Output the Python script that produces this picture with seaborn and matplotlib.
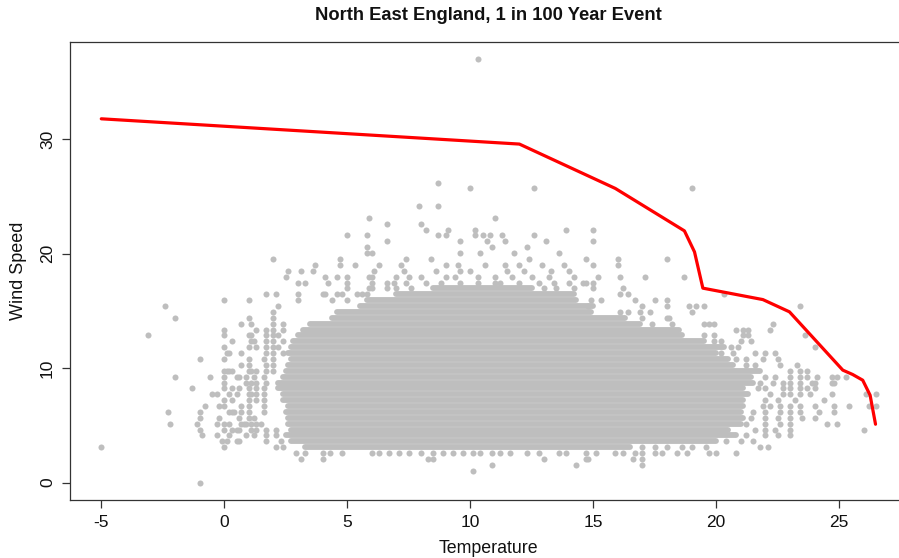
import numpy as np
import pandas as pd
import matplotlib
matplotlib.use("Agg")
import matplotlib.pyplot as plt
import seaborn as sns

# ---------------- data ----------------
KNOT_TO_MS = 0.5144  # wind recorded in whole knots, plotted in m/s

# dense core of the cloud: one row per knot level, temperature extent of the filled band
core_knots = [6, 7, 8, 9, 10, 11, 12, 13, 14, 15, 16, 17, 18, 19, 20,
              21, 22, 23, 24, 25, 26, 27, 28, 29, 30, 31, 32, 33]
core_lo = [3.3, 2.7, 2.5, 2.7, 2.6, 2.6, 2.5, 2.6, 2.4, 2.4, 2.2, 2.2, 2.4, 2.5, 2.6,
           2.7, 2.6, 2.7, 2.8, 3.0, 3.2, 3.5, 4.4, 4.6, 5.5, 5.8, 7.0, 8.5]
core_hi = [16.5, 20.0, 20.8, 20.5, 21.0, 21.1, 21.0, 21.1, 21.1, 21.3, 21.1, 21.5, 21.4, 21.8, 20.7,
           20.5, 20.0, 20.3, 19.5, 18.6, 18.5, 16.9, 16.3, 14.9, 15.0, 14.3, 14.2, 12.5]

# scattered observations (temperature, wind in knots)
far_left_pts = [(-5.0, 6), (-3.1, 25), (-2.4, 30), (-2.0, 28), (-2.0, 18), (-2.3, 12), (-2.2, 10),
                (-1.3, 16), (-1.0, 21), (-1.0, 12), (-1.0, 11), (-1.1, 10), (-1.0, 9), (-0.9, 8),
                (-0.8, 13), (-0.6, 18), (-0.5, 15), (-0.3, 10), (-0.3, 8), (-0.2, 11), (-0.2, 13),
                (-1.0, 0)]
left_pts = [(0.0, 31), (1.0, 31), (1.7, 32), (2.1, 32), (2.2, 30), (2.0, 29), (1.0, 28), (2.0, 28),
            (0.7, 27), (1.1, 27), (2.0, 27), (2.4, 27), (0.0, 26), (1.3, 26), (1.7, 26), (2.0, 26), (2.4, 26),
            (0.0, 25), (1.0, 25), (1.1, 25), (1.7, 25), (2.0, 25), (2.2, 25),
            (0.3, 24), (1.1, 24), (1.2, 24), (1.7, 24), (2.0, 24), (2.4, 24),
            (0.0, 23), (1.0, 23), (1.3, 23), (1.7, 23), (2.0, 23), (2.2, 23),
            (0.1, 22), (0.2, 22), (0.7, 22), (1.7, 22), (2.0, 22), (2.4, 22),
            (0.0, 21), (1.0, 21), (1.6, 21), (2.0, 21), (0.7, 20), (1.0, 20), (1.7, 20), (2.0, 20),
            (0.0, 19), (0.1, 19), (0.2, 19), (0.3, 19), (1.0, 19), (1.1, 19), (1.3, 19), (1.7, 19), (2.0, 19),
            (0.0, 18), (0.5, 18), (0.6, 18), (0.9, 18), (1.2, 18), (1.6, 18),
            (0.0, 17), (0.9, 17), (1.1, 17), (1.3, 17), (1.7, 17),
            (0.0, 16), (0.3, 16), (0.6, 16), (1.0, 16), (1.3, 16), (1.6, 16),
            (-0.3, 15), (0.2, 15), (0.5, 15), (1.0, 15), (1.1, 15), (1.3, 15), (1.6, 15),
            (0.0, 14), (0.3, 14), (1.0, 14), (1.3, 14), (1.6, 14),
            (0.0, 13), (0.7, 13), (1.0, 13), (1.6, 13),
            (0.2, 12), (0.3, 12), (0.4, 12), (0.7, 12), (1.0, 12), (1.6, 12),
            (0.6, 11), (1.0, 11), (1.2, 11),
            (0.0, 10), (0.2, 10), (0.7, 10), (0.8, 10), (0.9, 10), (1.1, 10), (1.3, 10), (1.5, 10),
            (0.0, 9), (0.3, 9), (0.5, 9), (0.6, 9), (1.1, 9), (1.3, 9), (1.7, 9), (2.1, 9),
            (0.2, 8), (0.9, 8), (1.2, 8), (1.7, 8), (2.1, 8),
            (-0.1, 7), (0.1, 7), (0.5, 7), (0.6, 7), (1.7, 7), (2.3, 7),
            (0.0, 6), (2.1, 6), (2.4, 6)]
upper_pts = [(5.9, 45), (5.0, 42), (5.8, 42), (5.8, 40), (5.8, 39), (6.0, 39), (2.0, 38), (4.7, 38),
             (4.7, 37), (5.3, 37), (6.3, 37), (3.7, 37), (2.6, 36), (3.1, 36), (3.6, 36), (2.5, 35),
             (4.1, 35), (4.6, 35), (5.0, 35), (5.9, 35), (6.0, 35), (3.0, 34), (3.3, 34), (4.2, 34),
             (5.0, 34), (6.0, 34), (5.0, 33), (5.9, 33), (6.0, 33), (3.0, 32), (3.0, 31), (4.0, 32),
             (4.1, 32), (4.6, 32), (4.8, 32), (4.4, 31), (5.0, 31), (5.4, 32), (5.6, 32), (5.8, 32),
             (8.7, 51), (10.0, 50), (12.6, 50), (7.9, 47), (8.7, 47), (6.6, 44), (8.0, 44), (11.0, 45),
             (6.6, 41), (8.2, 43), (9.1, 43), (8.7, 42), (9.0, 42), (10.2, 43), (10.2, 42), (10.5, 42),
             (10.8, 42), (11.3, 42), (12.6, 42), (13.9, 43), (9.6, 41), (10.7, 41), (11.4, 41), (13.1, 41),
             (10.9, 40), (12.3, 40), (13.6, 39), (9.6, 39), (10.4, 39), (11.8, 39), (7.4, 38), (8.4, 38),
             (12.4, 38), (7.2, 37), (9.0, 37), (9.5, 37), (10.6, 37), (11.4, 37), (12.0, 37), (12.9, 37),
             (13.8, 37), (6.1, 36), (7.3, 36), (8.6, 36), (9.6, 36), (10.0, 36), (11.5, 36), (12.2, 36),
             (13.3, 36), (14.0, 36),
             (7.0, 35), (7.5, 35), (8.0, 35), (9.0, 35), (9.4, 35), (10.3, 35), (11.0, 35), (11.7, 35),
             (12.5, 35), (13.2, 35), (14.2, 35),
             (6.6, 34), (6.9, 34), (7.4, 34), (8.2, 34), (8.8, 34), (9.6, 34), (10.3, 34), (11.0, 34),
             (11.2, 34), (12.0, 34), (12.8, 34), (13.4, 34), (14.0, 34),
             (6.6, 33), (7.0, 33), (7.6, 33), (13.0, 33), (13.5, 33), (14.2, 33)]
upper_right_pts = [(19.0, 50), (15.0, 43), (15.0, 41), (14.7, 38), (16.0, 38), (16.0, 37), (18.0, 38),
                   (15.0, 37), (15.2, 35), (16.1, 35), (17.1, 35), (18.7, 35), (16.2, 33), (16.4, 32),
                   (18.0, 31), (14.6, 34), (14.7, 34), (15.0, 34), (15.0, 33), (16.1, 32), (16.7, 31),
                   (17.5, 31), (14.9, 31), (15.3, 31), (17.0, 30), (18.0, 30), (18.9, 30), (19.2, 30),
                   (19.5, 30), (19.0, 29), (14.8, 30), (16.9, 29), (17.3, 29), (16.1, 29), (16.4, 29),
                   (18.0, 28), (18.1, 28), (19.7, 27), (19.5, 27), (17.4, 27), (18.2, 27), (17.0, 28)]
right_pts = [(20.3, 32), (23.4, 30), (19.9, 27), (22.3, 27), (20.8, 26), (21.1, 26), (21.3, 26),
             (22.2, 26), (19.5, 25), (19.9, 25), (21.1, 25), (21.3, 25), (23.6, 25), (19.9, 24),
             (20.2, 24), (21.0, 24), (21.4, 24), (20.6, 23), (20.9, 23), (24.0, 23), (20.2, 22),
             (20.7, 22), (21.6, 22), (22.0, 22), (22.4, 22), (20.8, 21), (21.2, 21), (21.9, 21),
             (22.5, 21), (21.2, 20), (21.6, 20), (22.6, 20), (23.3, 20), (23.0, 19), (23.4, 19),
             (23.7, 19), (22.0, 18), (22.4, 18), (23.0, 18), (23.4, 18), (23.7, 18), (24.1, 18),
             (24.7, 18), (24.9, 18), (25.3, 18), (21.8, 17), (22.3, 17), (22.7, 17), (23.0, 17),
             (23.4, 17), (23.9, 17), (24.0, 17), (24.7, 17), (24.8, 17), (21.7, 16), (22.0, 16),
             (22.7, 16), (23.0, 16), (23.4, 16), (23.7, 16), (24.0, 16), (22.2, 15), (22.7, 15),
             (23.0, 15), (23.4, 15), (23.8, 15), (24.7, 15), (26.1, 15), (26.5, 15), (24.4, 14),
             (22.0, 14), (22.5, 14), (23.2, 14), (21.9, 13), (22.2, 13), (22.6, 13), (23.0, 13),
             (23.4, 13), (24.0, 13), (24.8, 13), (25.4, 13), (26.2, 13), (26.5, 13), (21.5, 12),
             (22.0, 12), (22.6, 12), (23.0, 12), (23.4, 12), (24.2, 12), (24.8, 12), (21.4, 11),
             (22.0, 11), (22.5, 11), (23.0, 11), (23.5, 11), (24.0, 11), (24.5, 10), (24.9, 10),
             (21.2, 10), (22.0, 10), (22.6, 10), (23.0, 10), (26.0, 9), (21.6, 9), (22.0, 9),
             (22.4, 9), (23.0, 9), (22.0, 8), (22.5, 8), (23.0, 8), (21.8, 6), (22.1, 6),
             (20.8, 5), (20.0, 5), (19.7, 5), (20.4, 7), (21.0, 7), (21.5, 7), (21.2, 8),
             (17.0, 6), (17.5, 6), (18.0, 6), (18.6, 6), (19.0, 6), (19.6, 6)]
bottom_pts = [(2.9, 5), (3.3, 5), (4.0, 5), (4.3, 5), (4.8, 5), (6.0, 5), (6.3, 5), (6.7, 5), (7.1, 5),
              (7.5, 5), (8.0, 5), (8.5, 5), (8.9, 5), (9.3, 5), (9.7, 5), (10.1, 5), (10.4, 5),
              (10.9, 5), (11.2, 5), (11.6, 5), (12.3, 5), (12.8, 5), (13.6, 5), (13.9, 5), (14.7, 5),
              (15.1, 5), (15.9, 5), (16.2, 5), (16.7, 5), (17.0, 5), (17.5, 5), (17.8, 5), (18.4, 5),
              (18.8, 5), (3.1, 4), (4.0, 4), (8.3, 4), (8.5, 4), (13.0, 4), (14.7, 4), (14.8, 4),
              (16.6, 4), (17.0, 4), (10.9, 3), (14.3, 3), (17.0, 3), (10.1, 2), (10.3, 72)]

# 1-in-100-year event contour
curve_temp = [-5.0, 12.0, 15.9, 18.71, 19.12, 19.46, 21.9, 22.98, 25.15, 25.55, 25.96, 26.26, 26.48]
curve_wind = [31.81, 29.6, 25.72, 22.01, 20.17, 17.0, 16.0, 14.93, 9.83, 9.45, 8.95, 7.64, 5.10]

x_ticks = [-5, 0, 5, 10, 15, 20, 25]
y_ticks = [0, 10, 20, 30]

TITLE = "North East England, 1 in 100 Year Event"
XLABEL = "Temperature"
YLABEL = "Wind Speed"

# ---------------- build tables ----------------
GREY = "#BEBEBE"
rows = []
for i, (k, lo, hi) in enumerate(zip(core_knots, core_lo, core_hi)):
    rows.append({"row": i, "temp": lo, "wind": k * KNOT_TO_MS})
    rows.append({"row": i, "temp": hi, "wind": k * KNOT_TO_MS})
core_df = pd.DataFrame(rows)

all_pts = far_left_pts + left_pts + upper_pts + upper_right_pts + right_pts + bottom_pts
pts_df = pd.DataFrame(all_pts, columns=["temp", "knots"])
pts_df["wind"] = pts_df["knots"] * KNOT_TO_MS

curve_df = pd.DataFrame({"temp": curve_temp, "wind": curve_wind})

# ---------------- plot ----------------
sns.set_style("ticks")
plt.rcParams["font.family"] = ["Liberation Sans", "DejaVu Sans"]

W, H = 899, 558
fig = plt.figure(figsize=(W / 100, H / 100), dpi=100)
ax_left, ax_right, ax_top, ax_bottom = 70.3, 907.0, 42.3, 499.7
ax = fig.add_axes([ax_left / W, 1 - ax_bottom / H, (ax_right - ax_left) / W, (ax_bottom - ax_top) / H])

sns.lineplot(data=core_df, x="temp", y="wind", units="row", estimator=None, sort=False,
             color=GREY, linewidth=4.2, solid_capstyle="round", legend=False, ax=ax)
sns.scatterplot(data=pts_df, x="temp", y="wind", color=GREY, s=19, linewidth=0, legend=False, ax=ax)
sns.lineplot(data=curve_df, x="temp", y="wind", sort=False, estimator=None,
             color="#FF0000", linewidth=2.3, legend=False, ax=ax)

ax.set_xlim(-6.26, 27.76)
ax.set_ylim(-1.5, 38.5)
ax.set_xticks(x_ticks)
ax.set_yticks(y_ticks)
ax.set_xticklabels([str(t) for t in x_ticks])
ax.set_yticklabels([str(t) for t in y_ticks], rotation=90, va="center")
ax.tick_params(axis="both", length=6, width=0.9, color="#333333", labelsize=12.5,
               labelcolor="#111111", pad=5)
for sp in ax.spines.values():
    sp.set_color("#333333")
    sp.set_linewidth(0.9)
ax.set_xlabel("")
ax.set_ylabel("")

cx = (ax_left + ax_right) / 2 / W
fig.text(cx, 1 - 15 / H, TITLE, ha="center", va="center", fontsize=13.2, fontweight="bold",
         color="#111111")
fig.text(cx, 1 - 553 / H, XLABEL, ha="center", va="baseline", fontsize=12.8, color="#111111")
fig.text(19 / W, 1 - 271 / H, YLABEL, ha="center", va="center", rotation=90, fontsize=13,
         color="#111111")

fig.savefig("out.png", dpi=100)
